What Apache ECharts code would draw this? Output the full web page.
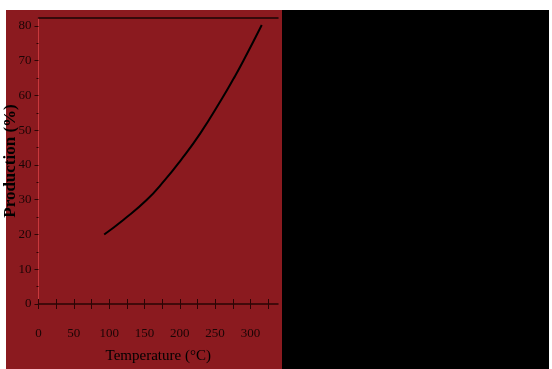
<!DOCTYPE html>
<html><head><meta charset="utf-8">
<script src="https://cdn.jsdelivr.net/npm/echarts@6/dist/echarts.min.js"></script>
<style>html,body{margin:0;padding:0;background:#fff}#c{width:552px;height:369px}</style>
</head><body><div id="c"></div>
<script>
const temperature = [93, 120, 153, 179, 200, 229, 260, 276, 290, 316];
const production = [20, 24.2, 29.9, 35.7, 41, 49.1, 59.2, 64.8, 70.0, 80.3];
const xLabelValues = [0, 50, 100, 150, 200, 250, 300];
const xTickValues = [0, 25, 50, 75, 100, 125, 150, 175, 200, 225, 250, 275, 300, 325];
const yLabelValues = [0, 10, 20, 30, 40, 50, 60, 70, 80];
const yMinorValues = [5, 15, 25, 35, 45, 55, 65, 75];
const xName = 'Temperature (°C)';
const yName = 'Production (%)';

const chart = echarts.init(document.getElementById('c'), null, {renderer: 'canvas'});
const font = 'Liberation Serif';
const txt = '#1a0505';
chart.setOption({
  animation: false,
  backgroundColor: '#fff',
  graphic: [
    {type: 'rect', z: -10, shape: {x: 6, y: 10, width: 276, height: 359}, style: {fill: '#8b1a1f'}},
    {type: 'rect', z: -10, shape: {x: 282, y: 10, width: 267, height: 359}, style: {fill: '#000'}}
  ],
  grid: {left: 38.5, right: 274, top: 18, bottom: 65, containLabel: false},
  xAxis: [
    {type: 'value', min: 0, max: 339, position: 'bottom',
     axisLine: {lineStyle: {color: '#2a0505', width: 1.5}},
     axisTick: {customValues: xTickValues, length: 5, inside: false, lineStyle: {color: '#2a0505'}},
     axisLabel: {customValues: xLabelValues, margin: 23, fontFamily: font, fontSize: 13, color: txt},
     splitLine: {show: false},
     name: xName, nameLocation: 'middle', nameGap: 45, nameMoveOverlap: false,
     nameTextStyle: {fontFamily: font, fontSize: 15, color: '#000'}},
    {type: 'value', min: 0, max: 339, position: 'bottom',
     axisLine: {show: false},
     axisTick: {customValues: xTickValues, length: 5, inside: true, lineStyle: {color: '#2a0505'}},
     axisLabel: {show: false}, splitLine: {show: false}},
    {type: 'value', min: 0, max: 339, position: 'top',
     axisLine: {lineStyle: {color: '#1a0505', width: 1.5}},
     axisTick: {show: false}, axisLabel: {show: false}, splitLine: {show: false}}
  ],
  yAxis: [
    {type: 'value', min: 0, max: 82.3, position: 'left',
     axisLine: {lineStyle: {color: '#c8383c', width: 1}},
     axisTick: {customValues: yLabelValues, length: 4, lineStyle: {color: '#2a0505'}},
     axisLabel: {customValues: yLabelValues, margin: 7, fontFamily: font, fontSize: 13, color: txt},
     splitLine: {show: false},
     name: yName, nameLocation: 'middle', nameGap: 19, nameMoveOverlap: false,
     nameTextStyle: {fontFamily: font, fontSize: 17, fontWeight: 'bold', color: '#000'}},
    {type: 'value', min: 0, max: 82.3, position: 'left',
     axisLine: {show: false},
     axisTick: {customValues: yMinorValues, length: 2, lineStyle: {color: '#2a0505'}},
     axisLabel: {show: false}, splitLine: {show: false}}
  ],
  series: [{
    type: 'line', xAxisIndex: 0, yAxisIndex: 0, smooth: true, showSymbol: false,
    lineStyle: {color: '#000', width: 2},
    data: temperature.map((t, i) => [t, production[i]])
  }]
});
</script></body></html>
